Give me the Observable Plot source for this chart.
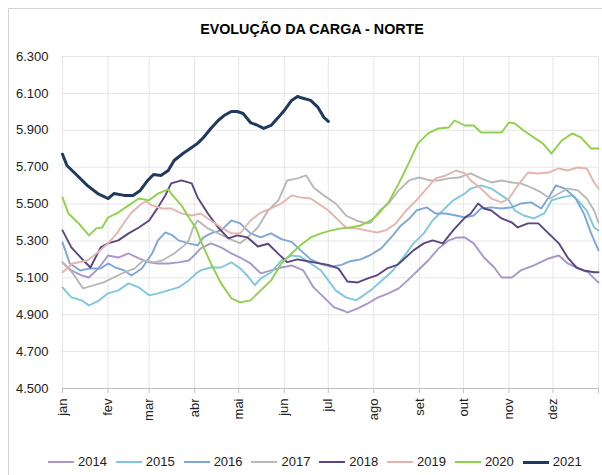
<!DOCTYPE html>
<html>
<head>
<meta charset="utf-8">
<script src="https://cdn.jsdelivr.net/npm/d3@7"></script>
<script src="https://cdn.jsdelivr.net/npm/@observablehq/plot@0.6"></script>
<style>
  html, body { margin: 0; padding: 0; background: #fff; overflow: hidden; }
  #wrap { position: relative; width: 602px; height: 475px; font-family: "Liberation Sans", Arial, sans-serif; }
  #frame { position: absolute; left: 8px; top: 8px; width: 700px; height: 600px; border: 1px solid #d4d4d4; box-sizing: border-box; }
  #title { position: absolute; left: 0; top: 21px; width: 624px; text-align: center; font-weight: bold; font-size: 14.3px; line-height: 17px; color: #000; white-space: nowrap; }
  #chart { position: absolute; left: 0; top: 0; }
  #legend { position: absolute; left: 48px; top: 454px; display: flex; gap: 8.9px; font-size: 13px; line-height: 16px; color: #222; white-space: nowrap; }
  .item { display: flex; align-items: center; }
  .sw { width: 26px; margin-right: 4px; }
</style>
</head>
<body>
<div id="wrap">
  <div id="frame"></div>
  <div id="chart"></div>
  <div id="title"></div>
  <div id="legend"></div>
</div>
<script>
const titleText = "EVOLUÇÃO DA CARGA - NORTE";
const years = ["2014", "2015", "2016", "2017", "2018", "2019", "2020", "2021"];
const colors = ["#a898c9", "#7ec8dd", "#7fa6d8", "#b8b8b8", "#5a4680", "#e6b4ae", "#8fd14a", "#1f3a5e"];
const monthDays = [0, 31, 59, 90, 120, 151, 181, 212, 243, 273, 304, 334, 365];
const monthLabels = ["jan", "fev", "mar", "abr", "mai", "jun", "jul", "ago", "set", "out", "nov", "dez", ""];
const yTicks = [4500, 4700, 4900, 5100, 5300, 5500, 5700, 5900, 6100, 6300];

// day of year and load (MWmed)
const days2014 = [0,6,13,18,25,31,38,45,52,59,65,72,79,86,91,94,101,108,115,121,128,135,142,149,156,164,171,178,185,191,194,201,208,215,222,229,235,242,249,256,263,269,274,280,287,294,299,306,312,321,331,338,344,351,358,362,365];
const load2014 = [5184,5140,5113,5102,5156,5221,5210,5232,5205,5184,5178,5178,5184,5194,5232,5259,5287,5265,5232,5210,5178,5124,5140,5156,5167,5140,5048,4994,4940,4923,4912,4934,4962,4994,5016,5043,5086,5140,5194,5259,5303,5319,5319,5287,5210,5156,5102,5102,5140,5167,5205,5221,5178,5151,5130,5097,5075];

const days2015 = [0,6,13,18,25,31,38,45,52,59,65,72,79,86,91,94,101,108,115,121,126,131,135,142,149,156,162,169,176,181,186,193,200,205,211,218,225,232,239,246,252,259,266,274,278,285,292,299,304,308,314,321,328,333,340,347,351,357,362,365];
const load2015 = [5048,4994,4978,4950,4978,5016,5032,5070,5048,5005,5016,5032,5048,5086,5124,5140,5156,5156,5184,5151,5110,5060,5097,5129,5194,5221,5216,5178,5140,5086,5032,4994,4978,5005,5040,5090,5140,5210,5287,5341,5411,5465,5520,5557,5584,5601,5584,5547,5520,5465,5438,5422,5449,5520,5536,5547,5520,5465,5373,5357];

const days2016 = [0,5,12,19,26,31,36,42,47,54,61,65,70,75,79,86,92,96,101,108,115,121,128,135,142,149,156,162,169,176,183,190,196,203,210,217,225,230,236,241,248,254,261,268,274,280,285,292,299,306,312,319,326,331,336,342,349,355,360,365];
const load2016 = [5292,5178,5140,5151,5151,5178,5156,5140,5113,5151,5232,5303,5346,5330,5303,5287,5276,5319,5341,5357,5411,5395,5341,5319,5341,5310,5295,5250,5200,5175,5160,5170,5190,5200,5225,5260,5330,5380,5420,5465,5482,5449,5449,5438,5427,5438,5476,5482,5476,5482,5503,5509,5476,5536,5601,5584,5536,5449,5341,5249];

const days2017 = [0,7,14,21,28,35,42,49,55,62,68,76,83,86,89,92,99,106,113,121,126,133,140,147,153,160,166,171,178,186,193,200,207,210,216,222,229,236,243,250,256,263,270,274,278,285,292,299,306,312,319,326,332,338,344,351,357,362,365];
const load2017 = [5184,5124,5043,5059,5075,5102,5129,5150,5194,5184,5194,5232,5276,5303,5373,5411,5368,5341,5314,5287,5319,5373,5465,5520,5628,5639,5655,5590,5547,5503,5438,5411,5395,5400,5465,5503,5574,5628,5644,5628,5628,5639,5644,5655,5666,5639,5617,5628,5617,5612,5590,5563,5530,5557,5584,5574,5530,5465,5400];

const days2018 = [0,6,13,19,26,31,38,45,52,59,65,70,74,81,88,92,99,106,113,119,126,133,140,147,153,160,167,174,181,188,194,201,208,214,221,228,235,239,246,252,259,266,274,278,283,287,292,299,306,310,317,324,331,338,344,350,355,362,365];
const load2018 = [5357,5265,5205,5156,5265,5287,5303,5341,5373,5411,5482,5547,5612,5628,5612,5536,5449,5373,5314,5330,5319,5270,5285,5230,5185,5200,5190,5180,5170,5150,5080,5075,5097,5113,5151,5170,5220,5249,5287,5303,5287,5357,5427,5449,5503,5476,5465,5422,5400,5373,5395,5395,5341,5287,5210,5156,5140,5130,5130];

const days2019 = [0,7,17,24,31,37,43,47,54,57,61,68,74,81,88,94,101,108,115,121,128,135,142,149,156,162,169,176,181,186,193,200,207,214,220,227,234,241,248,254,261,268,274,278,285,292,299,304,310,317,324,331,338,344,351,357,362,365];
const load2019 = [5130,5178,5194,5238,5287,5341,5411,5454,5503,5514,5493,5476,5476,5449,5438,5449,5411,5373,5341,5341,5411,5454,5476,5503,5547,5536,5530,5493,5465,5427,5373,5368,5357,5346,5357,5395,5465,5520,5584,5639,5655,5682,5666,5628,5584,5530,5509,5530,5601,5671,5666,5671,5693,5682,5698,5693,5617,5584];

const days2020 = [0,4,11,18,23,27,31,38,45,52,59,65,72,75,81,86,91,94,101,108,115,121,128,135,142,149,156,162,169,176,183,190,196,203,210,214,222,229,236,242,249,256,263,267,274,280,285,294,299,304,308,314,321,327,333,340,347,353,360,365];
const load2020 = [5536,5449,5395,5330,5368,5373,5427,5454,5493,5530,5520,5557,5579,5547,5493,5427,5368,5303,5178,5070,4989,4967,4978,5032,5086,5178,5232,5276,5319,5341,5357,5368,5373,5384,5411,5438,5509,5612,5726,5829,5883,5910,5915,5953,5926,5926,5888,5888,5888,5942,5937,5899,5861,5829,5774,5845,5883,5861,5801,5801];

const days2021 = [0,3,10,17,24,31,35,42,48,53,58,62,67,72,76,82,87,92,96,101,106,110,115,119,123,128,133,137,142,147,151,156,160,162,169,174,178,181];
const load2021 = [5770,5709,5655,5600,5557,5530,5557,5547,5547,5574,5628,5660,5655,5682,5736,5774,5801,5829,5861,5910,5953,5980,6002,6002,5991,5942,5926,5910,5926,5970,6007,6062,6083,6078,6062,6024,5970,5948];

const seriesDays = [days2014, days2015, days2016, days2017, days2018, days2019, days2020, days2021];
const seriesLoad = [load2014, load2015, load2016, load2017, load2018, load2019, load2020, load2021];

const rows = [];
years.forEach((yr, k) => {
  seriesDays[k].forEach((d, i) => rows.push({year: yr, day: d, load: seriesLoad[k][i]}));
});

const ptbr = d3.formatLocale({decimal: ",", thousands: ".", grouping: [3], currency: ["R$", ""]});
const fmt = ptbr.format(",");
const labelByDay = new Map(monthDays.map((d, i) => [d, monthLabels[i]]));

const chart = Plot.plot({
  width: 602,
  height: 475,
  marginLeft: 62,
  marginRight: 4,
  marginTop: 56,
  marginBottom: 87,
  style: {fontFamily: '"Liberation Sans", Arial, sans-serif', fontSize: "13px", background: "transparent", overflow: "visible"},
  x: {domain: [0, 365]},
  y: {domain: [4500, 6300]},
  color: {domain: years, range: colors},
  marks: [
    Plot.gridX(monthDays, {stroke: "#e6e6e6", strokeOpacity: 1}),
    Plot.gridY(yTicks, {stroke: "#e6e6e6", strokeOpacity: 1}),
    Plot.axisY(yTicks, {tickSize: 0, tickPadding: 14, tickFormat: fmt, fill: "#222", label: null}),
    Plot.axisX(monthDays, {tickSize: 5, tickPadding: 5, tickRotate: -90, tickFormat: d => labelByDay.get(d) ?? "", stroke: "#bfbfbf", fill: "#222", label: null}),
    Plot.ruleY([4500], {stroke: "#bfbfbf"}),
    Plot.line(rows.filter(r => r.year !== "2021"), {x: "day", y: "load", z: "year", stroke: "year", strokeWidth: 1.9, strokeLinejoin: "round"}),
    Plot.line(rows.filter(r => r.year === "2021"), {x: "day", y: "load", z: "year", stroke: "year", strokeWidth: 3, strokeLinejoin: "round"})
  ]
});
document.getElementById("chart").appendChild(chart);
document.getElementById("title").textContent = titleText;

const legend = document.getElementById("legend");
years.forEach((yr, k) => {
  const item = document.createElement("div");
  item.className = "item";
  const sw = document.createElement("div");
  sw.className = "sw";
  sw.style.height = (yr === "2021" ? 3 : 2) + "px";
  sw.style.background = colors[k];
  const t = document.createElement("span");
  t.textContent = yr;
  item.appendChild(sw);
  item.appendChild(t);
  legend.appendChild(item);
});
</script>
</body>
</html>
